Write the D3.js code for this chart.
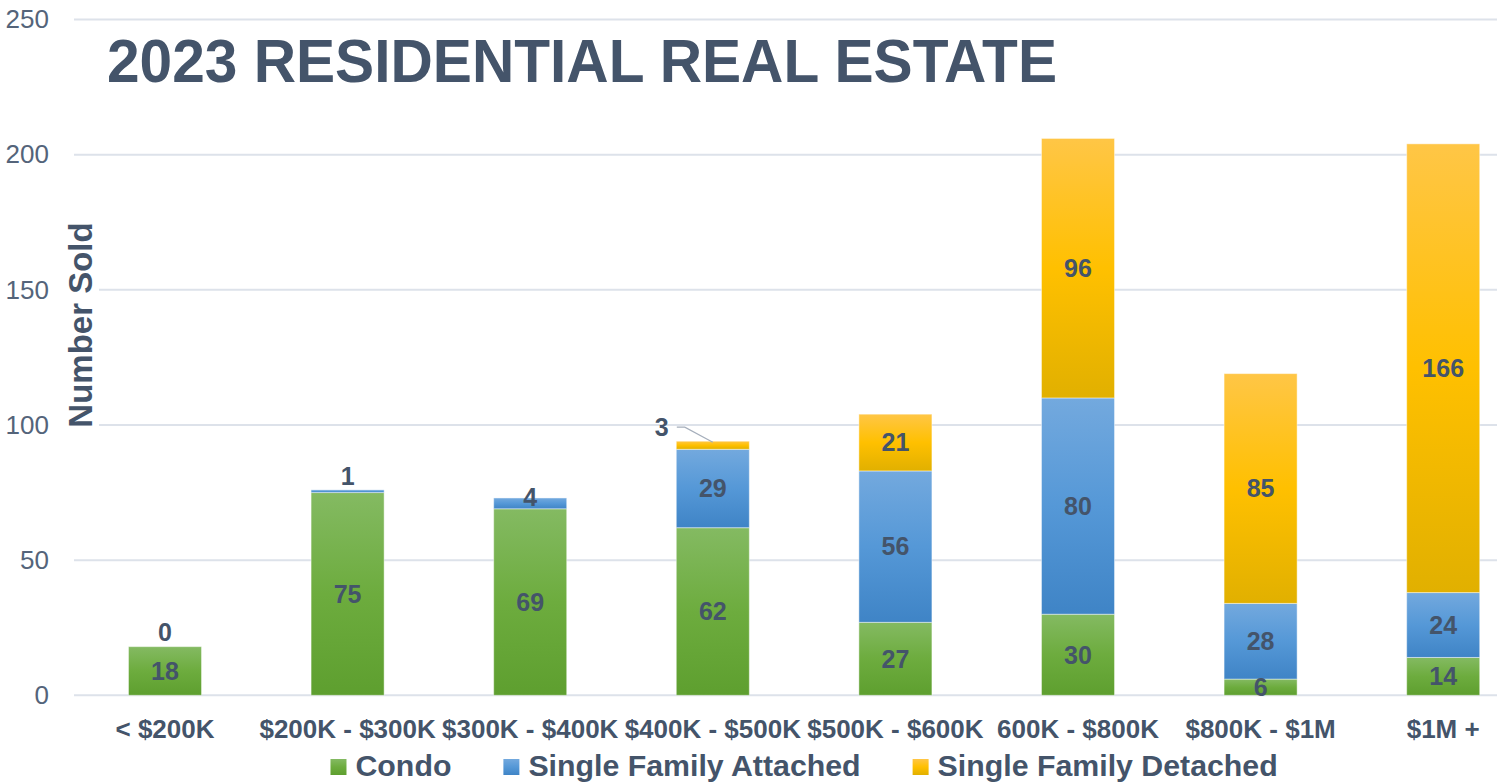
<!DOCTYPE html>
<html>
<head>
<meta charset="utf-8">
<script src="https://cdn.jsdelivr.net/npm/d3@7"></script>
<style>
  body { margin: 0; background: #fff; }
  svg { display: block; font-family: "Liberation Sans", Arial, sans-serif; }
</style>
</head>
<body>
<script>
// price bands and number sold per property type
var categories = ["< $200K", "$200K - $300K", "$300K - $400K", "$400K - $500K",
                  "$500K - $600K", "600K - $800K", "$800K - $1M", "$1M +"];
var condo      = [18, 75, 69, 62, 27, 30, 6, 14];
var sfAttached = [0, 1, 4, 29, 56, 80, 28, 24];
var sfDetached = [null, null, null, 3, 21, 96, 85, 166];
var seriesNames = ["Condo", "Single Family Attached", "Single Family Detached"];
var yTicks = [0, 50, 100, 150, 200, 250];

var width = 1497, height = 784;
var textColor = "#44546a";

// gradient stops per series (top, middle, bottom)
var seriesColors = [
    ["#84ba62", "#6dac3e", "#5e9f2f"],
    ["#73a9de", "#5598d7", "#3f84c6"],
    ["#ffc646", "#ffc000", "#e1b000"]
];

var svg = d3.select("body").append("svg")
    .attr("width", width)
    .attr("height", height);

var defs = svg.append("defs");
seriesColors.forEach(function(c, i) {
    var g = defs.append("linearGradient")
        .attr("id", "grad" + i)
        .attr("x1", 0).attr("y1", 0).attr("x2", 0).attr("y2", 1);
    g.append("stop").attr("offset", "0%").attr("stop-color", c[0]);
    g.append("stop").attr("offset", "50%").attr("stop-color", c[1]);
    g.append("stop").attr("offset", "100%").attr("stop-color", c[2]);
});

// scales
var xScale = d3.scaleBand()
    .domain(categories)
    .range([73.7, 1534.5])
    .paddingInner(0.6)
    .paddingOuter(0.3);

var yScale = d3.scaleLinear()
    .domain([0, 250])
    .range([695.3, 19.5]);

// gridlines
svg.append("g")
    .selectAll("line")
    .data(yTicks)
    .enter().append("line")
    .attr("x1", 74)
    .attr("x2", width)
    .attr("y1", function(d) { return yScale(d); })
    .attr("y2", function(d) { return yScale(d); })
    .attr("stroke", "#dde2ea")
    .attr("stroke-width", 2);

// y axis tick labels
var yAxis = d3.axisLeft(yScale).tickValues(yTicks).tickSize(0).tickPadding(0);
var yAxisG = svg.append("g")
    .attr("transform", "translate(49,0)")
    .call(yAxis);
yAxisG.select(".domain").remove();
yAxisG.selectAll("text")
    .attr("fill", "#54647a")
    .style("font-size", "26px")
    .style("font-family", "'Liberation Sans', Arial, sans-serif");

// title
svg.append("text")
    .attr("x", 107)
    .attr("y", 82)
    .attr("fill", textColor)
    .attr("textLength", 950)
    .attr("lengthAdjust", "spacingAndGlyphs")
    .style("font-size", "62px")
    .style("font-weight", "bold")
    .text("2023 RESIDENTIAL REAL ESTATE");

// y axis title, with white backing so it covers gridlines
var yTitle = svg.append("g")
    .attr("transform", "translate(92,325) rotate(-90)");
var yTitleBg = yTitle.append("rect").attr("fill", "#fff");
var yTitleText = yTitle.append("text")
    .attr("text-anchor", "middle")
    .attr("fill", textColor)
    .style("font-size", "33px")
    .style("font-weight", "bold")
    .text("Number Sold");
var bb = yTitleText.node().getBBox();
yTitleBg.attr("x", bb.x - 2).attr("y", bb.y).attr("width", bb.width + 4).attr("height", bb.height);

// stack data
var rows = categories.map(function(c, i) {
    return { cat: c, s0: condo[i], s1: sfAttached[i], s2: sfDetached[i] };
});
var stack = d3.stack()
    .keys(["s0", "s1", "s2"])
    .value(function(d, key) { return d[key] == null ? 0 : d[key]; });
var stacked = stack(rows);

// bars
var layers = svg.append("g").selectAll("g")
    .data(stacked)
    .enter().append("g")
    .attr("fill", function(d, i) { return "url(#grad" + i + ")"; });

layers.selectAll("rect")
    .data(function(d) { return d; })
    .enter().append("rect")
    .filter(function(d) { return d[1] - d[0] > 0; })
    .attr("x", function(d) { return xScale(d.data.cat); })
    .attr("width", xScale.bandwidth())
    .attr("y", function(d) { return yScale(d[1]); })
    .attr("height", function(d) { return yScale(d[0]) - yScale(d[1]); })
    .attr("stroke", "#ffffff")
    .attr("stroke-opacity", 0.45)
    .attr("stroke-width", 1);

// data labels
var labelG = svg.append("g");
stacked.forEach(function(layer) {
    layer.forEach(function(d) {
        var v = d.data[layer.key];
        if (v == null) return;
        var cx = xScale(d.data.cat) + xScale.bandwidth() / 2;
        var top = yScale(d[1]);
        var lbl = labelG.append("text")
            .attr("text-anchor", "middle")
            .attr("dy", "0.35em")
            .attr("fill", textColor)
            .style("font-size", "25px")
            .style("font-weight", "bold")
            .text(v);
        if (v < 2) {
            // tiny segment: put label above the bar
            lbl.attr("x", cx).attr("y", top - 14);
        } else if (v < 4) {
            // small top segment: callout with leader line
            var lx = cx - 51, ly = top - 14;
            lbl.attr("x", lx).attr("y", ly);
            labelG.append("polyline")
                .attr("points", [[lx + 15, ly], [lx + 23, ly], [cx, top + 1]].join(" "))
                .attr("fill", "none")
                .attr("stroke", "#a5aebb")
                .attr("stroke-width", 1.2);
        } else if (v < 5) {
            // thin segment: label sits a little high, over the top edge
            lbl.attr("x", cx).attr("y", top - 1);
        } else {
            lbl.attr("x", cx).attr("y", (yScale(d[0]) + top) / 2);
        }
    });
});

// x axis category labels
var xAxis = d3.axisBottom(xScale).tickSize(0).tickPadding(0);
var xAxisG = svg.append("g")
    .attr("transform", "translate(0,720)")
    .call(xAxis);
xAxisG.select(".domain").remove();
xAxisG.selectAll("text")
    .attr("dy", "0.71em")
    .attr("fill", textColor)
    .style("font-size", "26px")
    .style("font-weight", "bold")
    .style("font-family", "'Liberation Sans', Arial, sans-serif");

// legend, centred on the plot area
var legend = svg.append("g");
var lx = 0;
seriesNames.forEach(function(name, i) {
    var item = legend.append("g").attr("transform", "translate(" + lx + ",0)");
    item.append("rect")
        .attr("x", 0).attr("y", 759)
        .attr("width", 16).attr("height", 16)
        .attr("fill", "url(#grad" + i + ")");
    var t = item.append("text")
        .attr("x", 25).attr("y", 776)
        .attr("fill", textColor)
        .style("font-size", "30.3px")
        .style("font-weight", "bold")
        .text(name);
    lx += 25 + t.node().getComputedTextLength() + 52;
});
var legendWidth = lx - 52;
var plotCenter = (xScale.range()[0] + xScale.range()[1]) / 2;
legend.attr("transform", "translate(" + (plotCenter - legendWidth / 2) + ",0)");
</script>
</body>
</html>
